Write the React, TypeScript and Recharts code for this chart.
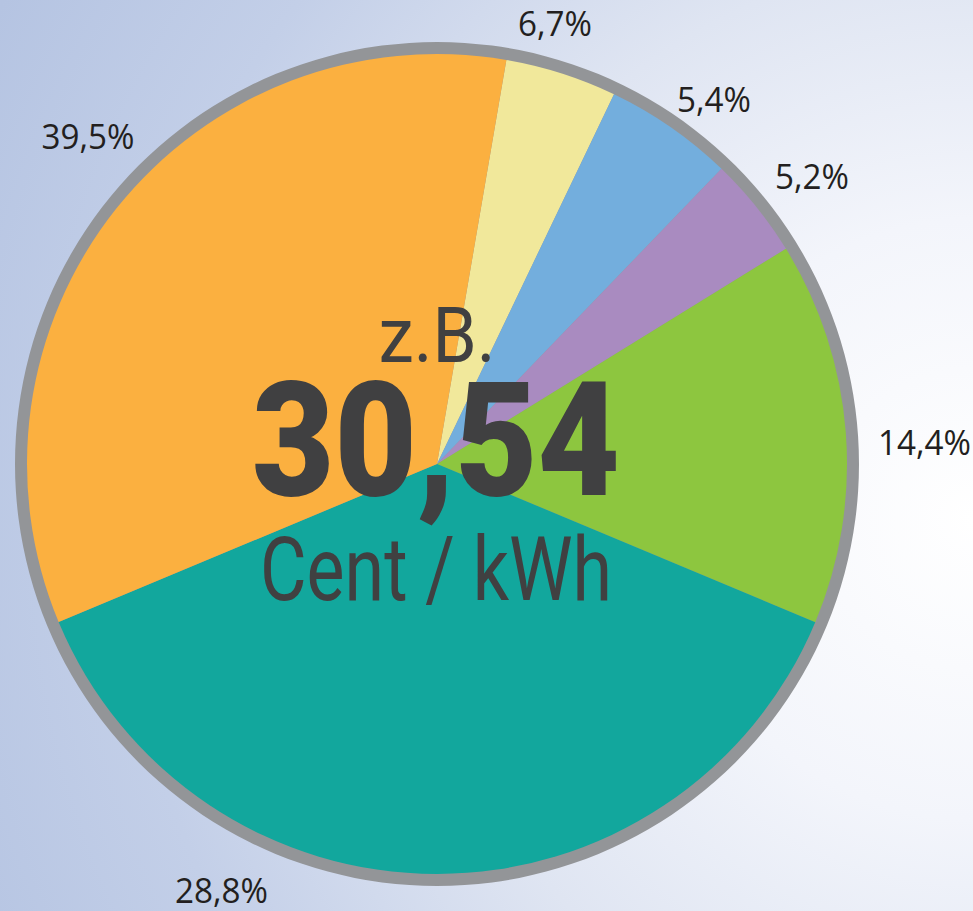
import React from 'react';
import { PieChart, Pie, Cell } from 'recharts';

// Anteile wie im Bild gezeichnet (im Uhrzeigersinn ab der Grenze Orange/Gelb)
const segmentNames = ['Gelb', 'Blau', 'Lila', 'Grün', 'Türkis', 'Orange'];
const segmentValues = [4.4, 5.1, 4.0, 15.1, 37.4, 34.0];
const segmentLabels = ['6,7%', '5,4%', '5,2%', '14,4%', '28,8%', '39,5%'];
const segmentColors = ['#f1e89b', '#73aedd', '#a98bc0', '#8dc63f', '#12a79d', '#fbb040'];

// Lage der Beschriftungen: Winkel (Grad, im Uhrzeigersinn ab 12 Uhr) und Abstand zur Mitte
const labelAngles = [15.0, 37.3, 52.6, 87.5, 206.8, 313.1];
const labelRadii = [456, 457, 472, 488, 478, 478];

const centerTop = 'z.B.';
const centerValue = '30,54';
const centerUnit = 'Cent / kWh';

const data = segmentNames.map((name, i) => ({
  name,
  value: segmentValues[i],
  label: segmentLabels[i],
}));
const ring = [{ name: 'Rand', value: 1 }];

const W = 973;
const H = 911;
const CX = 437;
const CY = 464;
const START = 90 - 9.74;

const renderLabel = (props: any) => {
  const { cx, cy, index } = props;
  const a = (labelAngles[index] * Math.PI) / 180;
  const r = labelRadii[index];
  const x = cx + r * Math.sin(a);
  const y = cy - r * Math.cos(a);
  return (
    <text
      x={x}
      y={y + 12}
      textAnchor="middle"
      fill="#231f20"
      fontSize={34}
      fontFamily="'Open Sans', sans-serif"
      textLength={segmentLabels[index].length > 4 ? 93 : 74}
      lengthAdjust="spacingAndGlyphs"
    >
      {segmentLabels[index]}
    </text>
  );
};

export default function App() {
  return (
    <div
      style={{
        position: 'absolute',
        left: 0,
        top: 0,
        width: W,
        height: H,
        overflow: 'hidden',
        background:
          'radial-gradient(circle at 100% 57%, #ffffff 0px, #f3f5fb 300px, #dfe5f2 560px, #c3cfe8 850px, #b5c4e2 1100px)',
      }}
    >
      <PieChart width={W} height={H} margin={{ top: 0, right: 0, bottom: 0, left: 0 }}>
        <Pie
          data={ring}
          dataKey="value"
          cx={CX}
          cy={CY}
          outerRadius={422}
          innerRadius={0}
          startAngle={90}
          endAngle={-270}
          stroke="none"
          fill="#939598"
          label={false}
          labelLine={false}
          isAnimationActive={false}
        />
        <Pie
          data={data}
          dataKey="value"
          nameKey="name"
          cx={CX}
          cy={CY}
          outerRadius={410}
          innerRadius={0}
          startAngle={START}
          endAngle={START - 360}
          stroke="none"
          label={renderLabel}
          labelLine={false}
          isAnimationActive={false}
        >
          {data.map((d, i) => (
            <Cell key={d.name} fill={segmentColors[i]} stroke="none" />
          ))}
        </Pie>
      </PieChart>
      <svg
        width={W}
        height={H}
        style={{ position: 'absolute', left: 0, top: 0, pointerEvents: 'none' }}
      >
        <g fill="#404041" fontFamily="Roboto, sans-serif" textAnchor="middle">
          <text x={437} y={362} fontSize={77} textLength={117} lengthAdjust="spacingAndGlyphs">
            {centerTop}
          </text>
          <text
            x={436}
            y={495}
            fontSize={159}
            fontWeight={900}
            textLength={368}
            lengthAdjust="spacingAndGlyphs"
          >
            {centerValue}
          </text>
          <text x={436} y={600} fontSize={89} textLength={352} lengthAdjust="spacingAndGlyphs">
            {centerUnit}
          </text>
        </g>
      </svg>
    </div>
  );
}
